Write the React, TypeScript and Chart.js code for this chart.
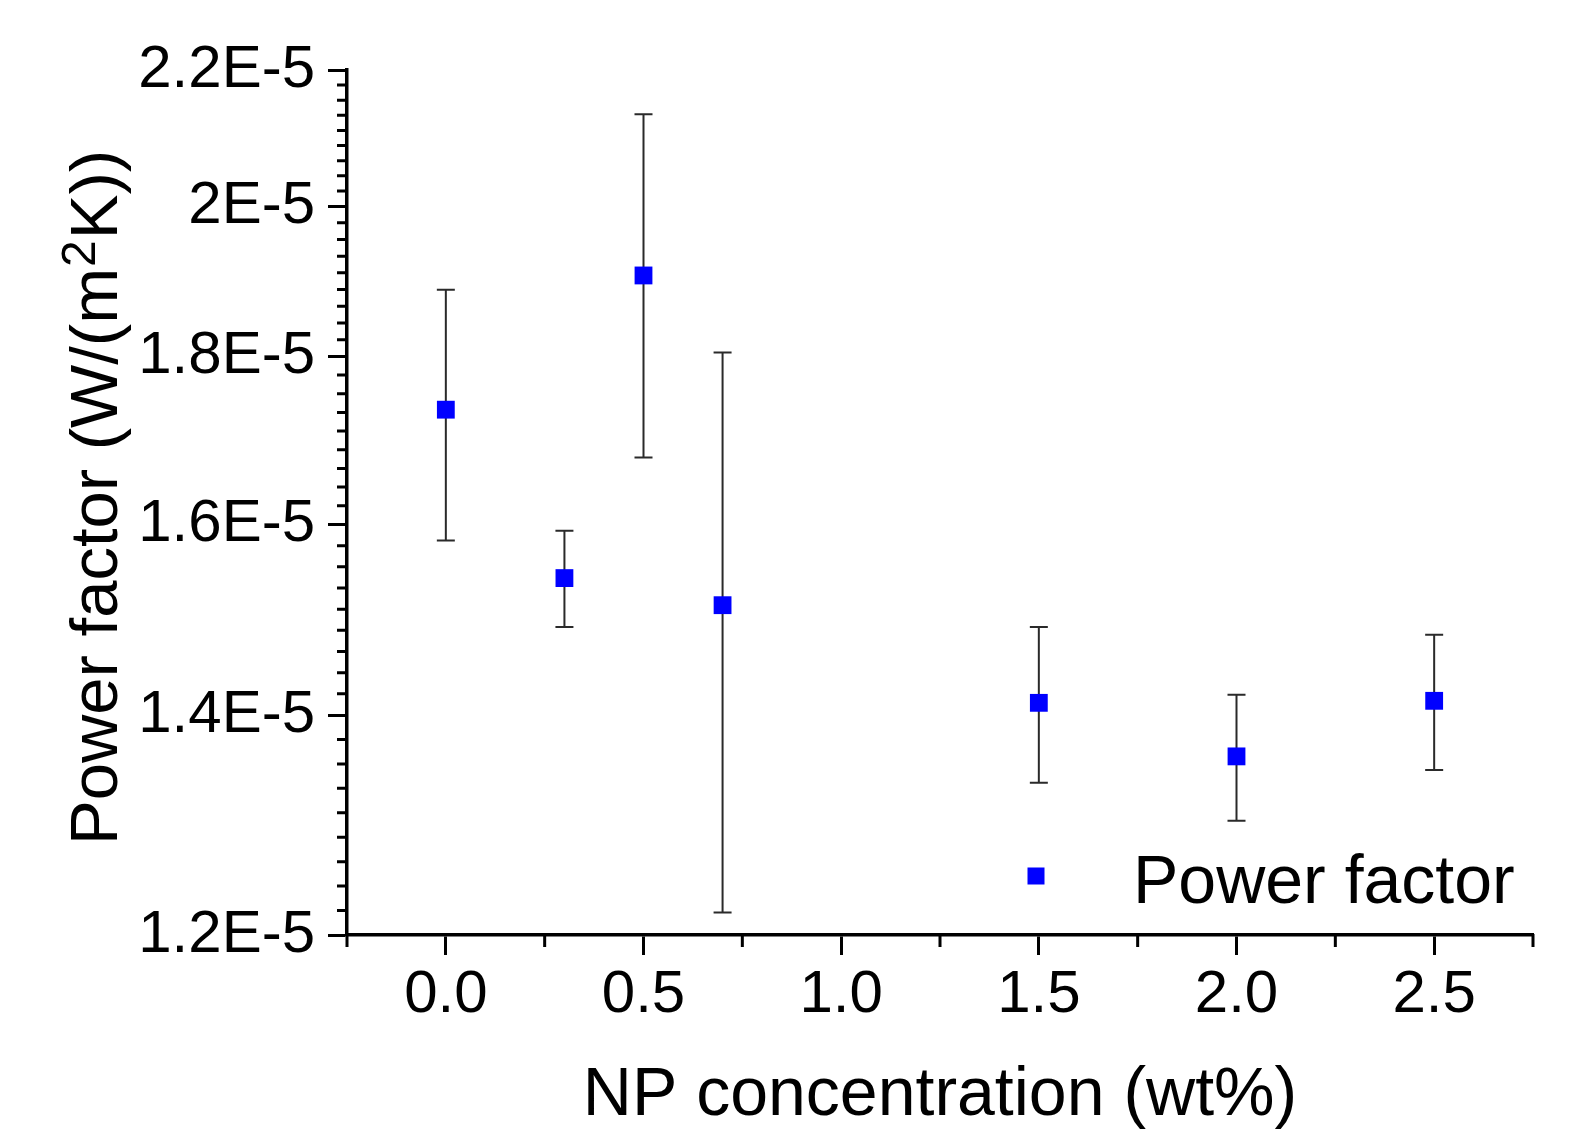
import React, { useEffect, useRef } from "react";
import { Chart, registerables } from "chart.js";

Chart.register(...registerables);

// ---------- data ----------
const concentrations = [0, 0.3, 0.5, 0.7, 1.5, 2.0, 2.5];
const powerFactor = [1.734e-5, 1.541e-5, 1.905e-5, 1.512e-5, 1.412e-5, 1.36e-5, 1.414e-5];
const powerFactorErr = [0.152e-5, 0.052e-5, 0.228e-5, 0.293e-5, 0.077e-5, 0.06e-5, 0.067e-5];

const xTickValues = [0, 0.5, 1.0, 1.5, 2.0, 2.5];
const xTickLabels = ["0.0", "0.5", "1.0", "1.5", "2.0", "2.5"];
const xMinorTickValues = [-0.25, 0.25, 0.75, 1.25, 1.75, 2.25, 2.75];
const yTickValues = [1.2e-5, 1.4e-5, 1.6e-5, 1.8e-5, 2.0e-5, 2.2e-5];
const yTickLabels = ["1.2E-5", "1.4E-5", "1.6E-5", "1.8E-5", "2E-5", "2.2E-5"];
const yMinorPerInterval = 8;

const seriesLabel = "Power factor";
const xAxisTitle = "NP concentration (wt%)";
const yAxisTitleMain = "Power factor (W/(m";
const yAxisTitleSup = "2";
const yAxisTitleEnd = "K))";

// ---------- style ----------
const FONT = "'Liberation Sans', Arial, Helvetica, sans-serif";
const MARKER_COLOR = "#0000FF";
const ERR_COLOR = "#2a2a2a";

const decorPlugin = {
  id: "decor",
  beforeDatasetsDraw(chart: any) {
    const ctx = chart.ctx;
    const xs = chart.scales.x;
    const ys = chart.scales.y;
    ctx.save();
    ctx.strokeStyle = ERR_COLOR;
    ctx.lineWidth = 2;
    const cap = 9;
    concentrations.forEach((c, i) => {
      const px = xs.getPixelForValue(c);
      const top = ys.getPixelForValue(powerFactor[i] + powerFactorErr[i]);
      const bot = ys.getPixelForValue(powerFactor[i] - powerFactorErr[i]);
      ctx.beginPath();
      ctx.moveTo(px, top);
      ctx.lineTo(px, bot);
      ctx.moveTo(px - cap, top);
      ctx.lineTo(px + cap, top);
      ctx.moveTo(px - cap, bot);
      ctx.lineTo(px + cap, bot);
      ctx.stroke();
    });
    ctx.restore();
  },
  afterDraw(chart: any) {
    const ctx = chart.ctx;
    const xs = chart.scales.x;
    const ys = chart.scales.y;
    const area = chart.chartArea;
    ctx.save();
    // minor ticks
    ctx.strokeStyle = "#000";
    ctx.lineWidth = 3;
    ctx.beginPath();
    for (let i = 0; i < yTickValues.length - 1; i++) {
      const pa = ys.getPixelForValue(yTickValues[i]);
      const pb = ys.getPixelForValue(yTickValues[i + 1]);
      for (let k = 1; k <= yMinorPerInterval; k++) {
        const p = pa + ((pb - pa) * k) / (yMinorPerInterval + 1);
        ctx.moveTo(area.left - 10, p);
        ctx.lineTo(area.left + 1, p);
      }
    }
    xMinorTickValues.forEach((v) => {
      const p = xs.getPixelForValue(v);
      ctx.moveTo(p, area.bottom - 1);
      ctx.lineTo(p, area.bottom + 12);
    });
    ctx.stroke();

    // x title
    ctx.fillStyle = "#000";
    ctx.font = `68px ${FONT}`;
    ctx.textAlign = "center";
    ctx.textBaseline = "alphabetic";
    ctx.fillText(xAxisTitle, (area.left + area.right) / 2, 1115);

    // y title with superscript
    ctx.save();
    ctx.translate(117, 845);
    ctx.rotate(-Math.PI / 2);
    ctx.textAlign = "left";
    ctx.font = `67px ${FONT}`;
    ctx.fillText(yAxisTitleMain, 0, 0);
    let w = ctx.measureText(yAxisTitleMain).width;
    ctx.font = `48px ${FONT}`;
    ctx.fillText(yAxisTitleSup, w + 1, -22);
    w += ctx.measureText(yAxisTitleSup).width + 2;
    ctx.font = `67px ${FONT}`;
    ctx.fillText(yAxisTitleEnd, w, 0);
    ctx.restore();

    // legend
    const lx = area.right - 497;
    const ly = area.bottom - 59;
    ctx.fillStyle = MARKER_COLOR;
    ctx.fillRect(lx - 8.5, ly - 8.5, 17, 17);
    ctx.fillStyle = "#000";
    ctx.font = `68px ${FONT}`;
    ctx.textAlign = "left";
    ctx.textBaseline = "alphabetic";
    ctx.fillText(seriesLabel, area.right - 400, area.bottom - 32);
    ctx.restore();
  },
};

export default function App() {
  const canvasRef = useRef<HTMLCanvasElement | null>(null);

  useEffect(() => {
    const canvas = canvasRef.current;
    if (!canvas) return;
    const chart = new Chart(canvas, {
      type: "scatter",
      data: {
        datasets: [
          {
            label: seriesLabel,
            data: concentrations.map((c, i) => ({ x: c, y: powerFactor[i] })),
            pointStyle: "rect",
            pointRadius: 12.6,
            pointHoverRadius: 12.6,
            backgroundColor: MARKER_COLOR,
            borderColor: MARKER_COLOR,
            borderWidth: 0,
            showLine: false,
          },
        ],
      },
      options: {
        responsive: false,
        animation: false,
        devicePixelRatio: 1,
        events: [],
        layout: { padding: { left: 0, top: 70, right: 40, bottom: 0 } },
        plugins: {
          legend: { display: false },
          tooltip: { enabled: false },
          title: { display: false },
        },
        scales: {
          x: {
            type: "linear",
            min: -0.25,
            max: 2.75,
            afterBuildTicks: (scale: any) => {
              scale.ticks = xTickValues.map((v) => ({ value: v }));
            },
            afterFit: (scale: any) => {
              scale.height = 199;
            },
            ticks: {
              callback: (_v: any, idx: number) => xTickLabels[idx],
              font: { family: FONT, size: 60 },
              color: "#000",
              padding: 4,
              maxRotation: 0,
              autoSkip: false,
            },
            grid: {
              display: true,
              drawOnChartArea: false,
              drawTicks: true,
              tickLength: 20,
              tickWidth: 3,
              tickColor: "#000",
            },
            border: { display: true, color: "#000", width: 3.5 },
          },
          y: {
            type: "logarithmic",
            min: 1.2e-5,
            max: 2.2e-5,
            afterBuildTicks: (scale: any) => {
              scale.ticks = yTickValues.map((v) => ({ value: v }));
            },
            afterFit: (scale: any) => {
              scale.width = 347;
            },
            ticks: {
              callback: (_v: any, idx: number) => yTickLabels[idx],
              font: { family: FONT, size: 60 },
              color: "#000",
              padding: 13,
              autoSkip: false,
            },
            grid: {
              display: true,
              drawOnChartArea: false,
              drawTicks: true,
              tickLength: 19,
              tickWidth: 3,
              tickColor: "#000",
            },
            border: { display: true, color: "#000", width: 3.5 },
          },
        },
      },
      plugins: [decorPlugin],
    } as any);
    return () => chart.destroy();
  }, []);

  return (
    <div style={{ position: "fixed", left: 0, top: 0, width: 1573, height: 1134, background: "#fff" }}>
      <canvas ref={canvasRef} width={1573} height={1134} style={{ display: "block" }} />
    </div>
  );
}
